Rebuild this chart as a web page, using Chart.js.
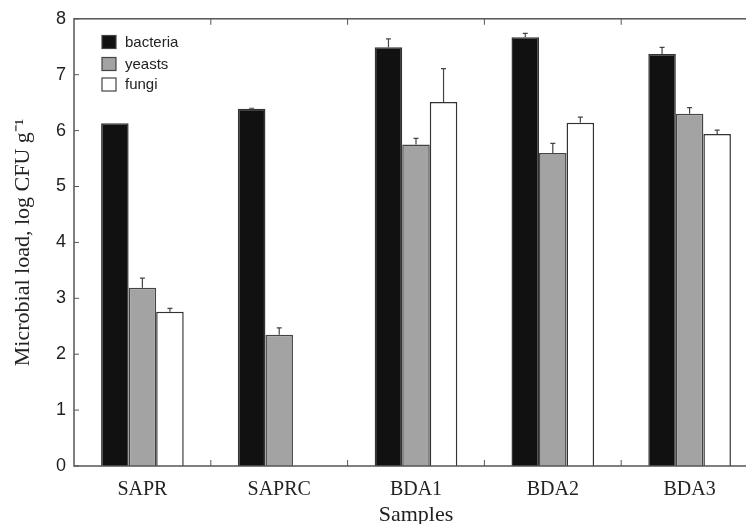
<!DOCTYPE html>
<html>
<head>
<meta charset="utf-8">
<script src="https://cdn.jsdelivr.net/npm/chart.js@4"></script>
<style>
  html, body { margin: 0; padding: 0; background: #fff; overflow: hidden; }
  #wrap { width: 746px; height: 524px; overflow: hidden; }
  #box { width: 758px; height: 524px; }
</style>
</head>
<body>
<div id="wrap"><div id="box"><canvas id="myChart"></canvas></div></div>
<script>
const samples = ["SAPR", "SAPRC", "BDA1", "BDA2", "BDA3"];
const bacteria = [6.13, 6.39, 7.49, 7.67, 7.37];
const bacteriaErr = [0, 0.01, 0.15, 0.07, 0.12];
const yeasts = [3.19, 2.35, 5.75, 5.60, 6.30];
const yeastsErr = [0.17, 0.12, 0.11, 0.17, 0.11];
const fungi = [2.76, 0, 6.51, 6.14, 5.94];
const fungiErr = [0.06, 0, 0.60, 0.10, 0.07];
const yTicks = [0, 1, 2, 3, 4, 5, 6, 7, 8];

const lineColor = "#555";

// error bars, only the upper half with a small cap
const errorBars = {
    id: "errorBars",
    afterDatasetsDraw (chart)
    {
        const ctx = chart.ctx;
        const y = chart.scales.y;
        ctx.save();
        ctx.strokeStyle = "#444";
        ctx.lineWidth = 1.2;
        chart.data.datasets.forEach((ds, i) => {
            const meta = chart.getDatasetMeta(i);
            meta.data.forEach((bar, j) => {
                const err = ds.errors[j];
                if (!err) return;
                const top = y.getPixelForValue(ds.data[j] + err);
                const base = y.getPixelForValue(ds.data[j]);
                ctx.beginPath();
                ctx.moveTo(bar.x, base);
                ctx.lineTo(bar.x, top);
                ctx.moveTo(bar.x - 2.5, top);
                ctx.lineTo(bar.x + 2.5, top);
                ctx.stroke();
            });
        });
        ctx.restore();
    }
};

// frame with inward ticks + legend inside the plot
const frame = {
    id: "frame",
    afterDraw (chart)
    {
        const ctx = chart.ctx;
        const a = chart.chartArea;
        const x = chart.scales.x;
        const y = chart.scales.y;
        ctx.save();
        ctx.strokeStyle = lineColor;
        ctx.lineWidth = 1.5;
        ctx.strokeRect(a.left, a.top, a.right - a.left, a.bottom - a.top);

        ctx.lineWidth = 1;
        ctx.beginPath();
        yTicks.forEach(v => {
            const py = y.getPixelForValue(v);
            ctx.moveTo(a.left, py);
            ctx.lineTo(a.left + 5, py);
        });
        for (let i = 1; i < samples.length; i++)
        {
            const px = (x.getPixelForValue(i - 1) + x.getPixelForValue(i)) / 2;
            ctx.moveTo(px, a.bottom);
            ctx.lineTo(px, a.bottom - 6);
            ctx.moveTo(px, a.top);
            ctx.lineTo(px, a.top + 6);
        }
        ctx.stroke();

        // legend
        ctx.font = "15px 'Liberation Sans', Arial, sans-serif";
        ctx.textBaseline = "middle";
        const rows = [42.5, 64.5, 85];
        chart.data.datasets.forEach((ds, i) => {
            const cy = rows[i];
            ctx.fillStyle = ds.backgroundColor;
            ctx.fillRect(102, cy - 7, 14, 13);
            ctx.strokeStyle = "#444";
            ctx.lineWidth = 1.2;
            ctx.strokeRect(102, cy - 7, 14, 13);
            ctx.fillStyle = "#222";
            ctx.fillText(ds.label, 125, cy);
        });
        ctx.restore();
    }
};

const ctx = document.getElementById("myChart");

new Chart(ctx, {
    type: "bar",
    data: {
        labels: samples,
        datasets: [
            { label: "bacteria", data: bacteria, errors: bacteriaErr, backgroundColor: "#111111", borderColor: "#333", borderWidth: 1.5 },
            { label: "yeasts", data: yeasts, errors: yeastsErr, backgroundColor: "#a3a3a3", borderColor: "#444", borderWidth: 1.5 },
            { label: "fungi", data: fungi, errors: fungiErr, backgroundColor: "#ffffff", borderColor: "#333", borderWidth: 1.5 }
        ]
    },
    options: {
        responsive: true,
        maintainAspectRatio: false,
        animation: false,
        layout: { padding: { top: 17.5, right: 0, left: 0, bottom: 0 } },
        plugins: {
            legend: { display: false },
            tooltip: { enabled: false }
        },
        datasets: {
            bar: { categoryPercentage: 0.604, barPercentage: 1 }
        },
        scales: {
            x: {
                grid: { display: false, drawTicks: false },
                border: { display: false },
                ticks: {
                    color: "#222",
                    padding: 12,
                    font: { family: "'Liberation Serif', 'Times New Roman', serif", size: 20 }
                },
                title: {
                    display: true,
                    text: "Samples",
                    color: "#222",
                    padding: { top: 0, bottom: 0 },
                    font: { family: "'Liberation Serif', 'Times New Roman', serif", size: 22, lineHeight: 0.8 }
                },
                afterFit: s => { s.height = 58; }
            },
            y: {
                min: 0,
                max: 8,
                grid: { display: false, drawTicks: false },
                border: { display: false },
                ticks: {
                    stepSize: 1,
                    color: "#222",
                    padding: 8,
                    font: { family: "'Liberation Sans', Arial, sans-serif", size: 18 }
                },
                title: {
                    display: true,
                    text: "Microbial load, log CFU g\u207B\u00B9",
                    color: "#222",
                    padding: { top: 10, bottom: 10 },
                    font: { family: "'Liberation Serif', 'Times New Roman', serif", size: 22 }
                },
                afterFit: s => { s.width = 74; }
            }
        }
    },
    plugins: [errorBars, frame]
});
</script>
</body>
</html>
